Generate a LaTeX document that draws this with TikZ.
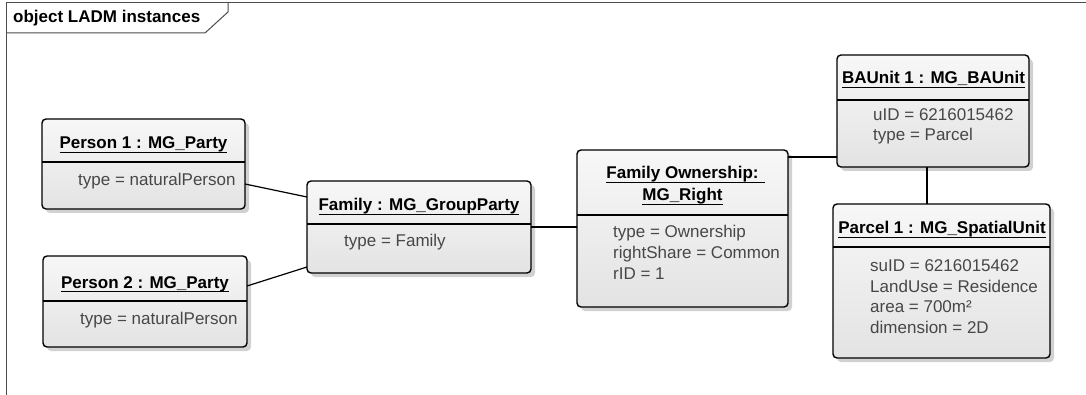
\documentclass[tikz,border=0pt]{standalone}
\usepackage{fontspec}
\setmainfont{Liberation Sans}
\usetikzlibrary{shadows}

% underlined title text with a rule placed just below the baseline
\newlength\ulinewd
\newcommand\ultext[1]{\settowidth\ulinewd{#1}\rlap{\rule[-4pt]{\ulinewd}{1.3pt}}#1}

\begin{document}
\begin{tikzpicture}[x=1pt,y=-1pt,
  objbox/.style={draw=black, line width=1.4pt, rounded corners=4pt,
    top color=white!97!black, bottom color=white!89!black,
    anchor=north west, inner sep=0pt, outer sep=0pt,
    drop shadow={shadow xshift=4pt, shadow yshift=-4pt, fill=black!18, opacity=1}},
  sepline/.style={draw=black, line width=1.4pt},
  link/.style={draw=black, line width=1.2pt},
  title/.style={anchor=base, inner sep=0pt, font=\fontsize{17}{20}\selectfont\bfseries},
  attr/.style={anchor=base west, inner sep=0pt, text=black!72, font=\fontsize{17}{20}\selectfont},
  frameline/.style={draw=black!70, line width=1pt}
]
\useasboundingbox (0,0) rectangle (1086,395);

% diagram frame with its name tab
\draw[frameline] (6,395) -- (6,3) -- (1086,3);
\draw[frameline] (6,33) -- (205,33) -- (228,12) -- (228,3);
\node[anchor=base west, inner sep=0pt, font=\fontsize{17}{20}\selectfont\bfseries] (frametitle) at (13,23) {object LADM instances};

% object boxes
\node[objbox, minimum width=203pt, minimum height=90pt] (p1) at (42,119) {};
\node[objbox, minimum width=204pt, minimum height=91pt] (p2) at (43,256) {};
\node[objbox, minimum width=224pt, minimum height=92pt] (fam) at (307,181) {};
\node[objbox, minimum width=211pt, minimum height=157pt] (fo) at (577,150) {};
\node[objbox, minimum width=192pt, minimum height=112pt] (ba) at (837,55) {};
\node[objbox, minimum width=217pt, minimum height=154pt] (pa) at (833,204) {};

% compartment separators
\draw[sepline] ([yshift=-43pt]p1.north west) -- ([yshift=-43pt]p1.north east);
\draw[sepline] ([yshift=-45pt]p2.north west) -- ([yshift=-45pt]p2.north east);
\draw[sepline] ([yshift=-43pt]fam.north west) -- ([yshift=-43pt]fam.north east);
\draw[sepline] ([yshift=-65pt]fo.north west) -- ([yshift=-65pt]fo.north east);
\draw[sepline] ([yshift=-45pt]ba.north west) -- ([yshift=-45pt]ba.north east);
\draw[sepline] ([yshift=-43pt]pa.north west) -- ([yshift=-43pt]pa.north east);

% titles
\node[title] (p1t) at (143.5,149) {\ultext{Person 1 : MG\_Party}};
\node[title] (p2t) at (145,288) {\ultext{Person 2 : MG\_Party}};
\node[title] (famt) at (419,211) {\ultext{Family : MG\_GroupParty}};
\node[title] (fot1) at (682.5,179) {\ultext{Family Ownership: }};
\node[title] (fot2) at (682.5,201) {\ultext{MG\_Right}};
\node[title] (bat) at (933.5,84) {\ultext{BAUnit 1 : MG\_BAUnit}};
\node[title] (pat) at (942,234) {\ultext{Parcel 1 : MG\_SpatialUnit}};

% attribute values
\node[attr] (p1a) at (78,186) {type = naturalPerson};
\node[attr] (p2a) at (80,324) {type = naturalPerson};
\node[attr] (fama) at (344,247) {type = Family};
\node[attr] (foa1) at (613,238) {type = Ownership};
\node[attr] (foa2) at (613,258.5) {rightShare = Common};
\node[attr] (foa3) at (613,279) {rID = 1};
\node[attr] (baa1) at (873,121) {uID = 6216015462};
\node[attr] (baa2) at (873,141) {type = Parcel};
\node[attr] (paa1) at (870,271) {suID = 6216015462};
\node[attr] (paa2) at (870,292) {LandUse = Residence};
\node[attr] (paa3) at (870,312.5) {area = 700m²};
\node[attr] (paa4) at (870,333) {dimension = 2D};

% links
\draw[link] ([yshift=-20pt]p1.east) -- ([yshift=30pt]fam.west);
\draw[link] ([yshift=15.5pt]p2.east) -- ([yshift=-40pt]fam.west);
\draw[link] (fam.east) -- (fam.east -| fo.west);
\draw[link] ([yshift=71.5pt]fo.east) -- ([yshift=71.5pt]fo.east -| ba.west);
\draw[link] ([xshift=-6pt]ba.south) -- ([xshift=-6pt]ba.south |- pa.north);
\end{tikzpicture}
\end{document}
